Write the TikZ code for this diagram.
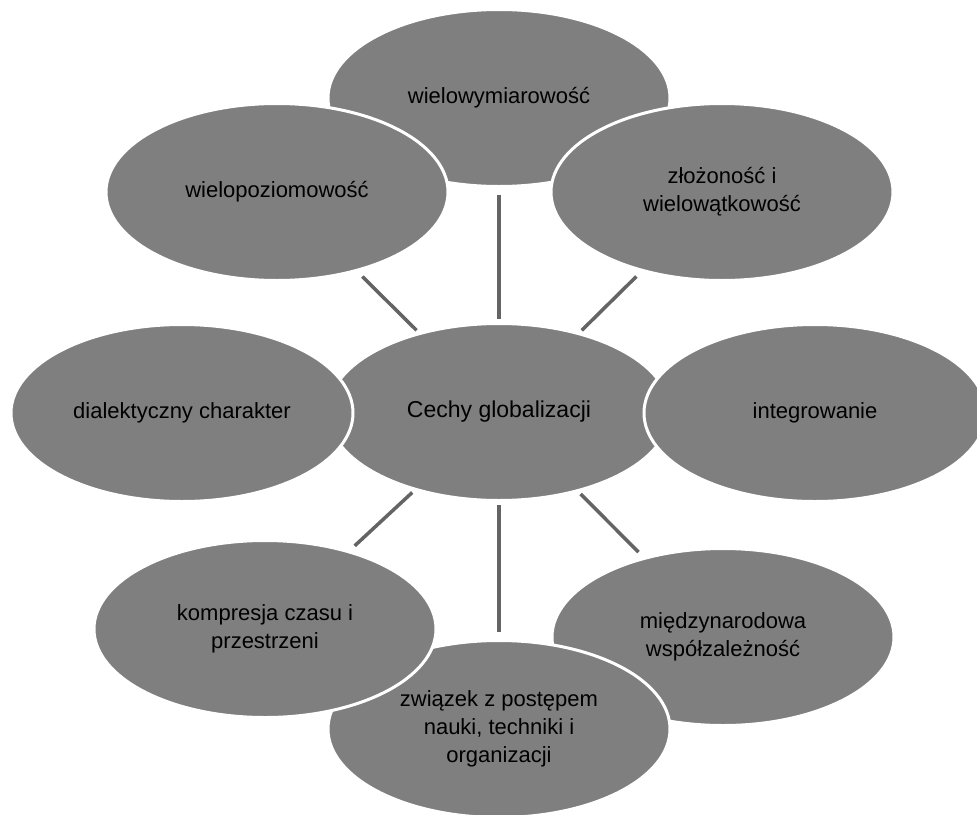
\documentclass[tikz,border=0pt]{standalone}
\usepackage{fontspec}
\setmainfont{Liberation Sans}
\usetikzlibrary{shapes.geometric}

\definecolor{bubblegray}{HTML}{7F7F7F}
\definecolor{linkgray}{HTML}{646464}

\begin{document}
\begin{tikzpicture}[
  x=1pt,
  y=-1pt,
  bubble/.style={ellipse,draw=white,line width=3pt,fill=bubblegray,
                 minimum width=342pt,minimum height=177pt,align=center,
                 inner sep=2pt,text=black,font=\fontsize{22}{28}\selectfont},
  hub/.style={bubble,font=\fontsize{23}{28}\selectfont},
  link/.style={draw=linkgray,line width=3.5pt,shorten <=3pt,shorten >=7pt}
]
\useasboundingbox (0,0) rectangle (977,814);

% ---------------------------------------------------------------
% centre and the eight features (drawn clockwise from the top)
% ---------------------------------------------------------------
\node[hub] (cechy) at (499,412) {Cechy globalizacji};

\node[bubble] (wymiar)   at (499,98)  {wielowymiarowość};
\node[bubble] (zlozon)   at (722,192) {złożoność i\\wielowątkowość};
\node[bubble] (integr)   at (815,413) {integrowanie};
\node[bubble] (wspolz)   at (723,637) {międzynarodowa\\współzależność};
\node[bubble] (postep)   at (499,729) {związek z postępem\\nauki, techniki i\\organizacji};
\node[bubble] (kompres)  at (265,629) {kompresja czasu i\\przestrzeni};
\node[bubble] (dialekt)  at (182,413) {dialektyczny charakter};
\node[bubble] (poziom)   at (277,192) {wielopoziomowość};

% ---------------------------------------------------------------
% spokes (left and right bubbles overlap the centre)
% ---------------------------------------------------------------
\foreach \tgt in {wymiar,zlozon,wspolz,postep,kompres,poziom}{
  \draw[link] (cechy) -- (\tgt);
}

\end{tikzpicture}
\end{document}
